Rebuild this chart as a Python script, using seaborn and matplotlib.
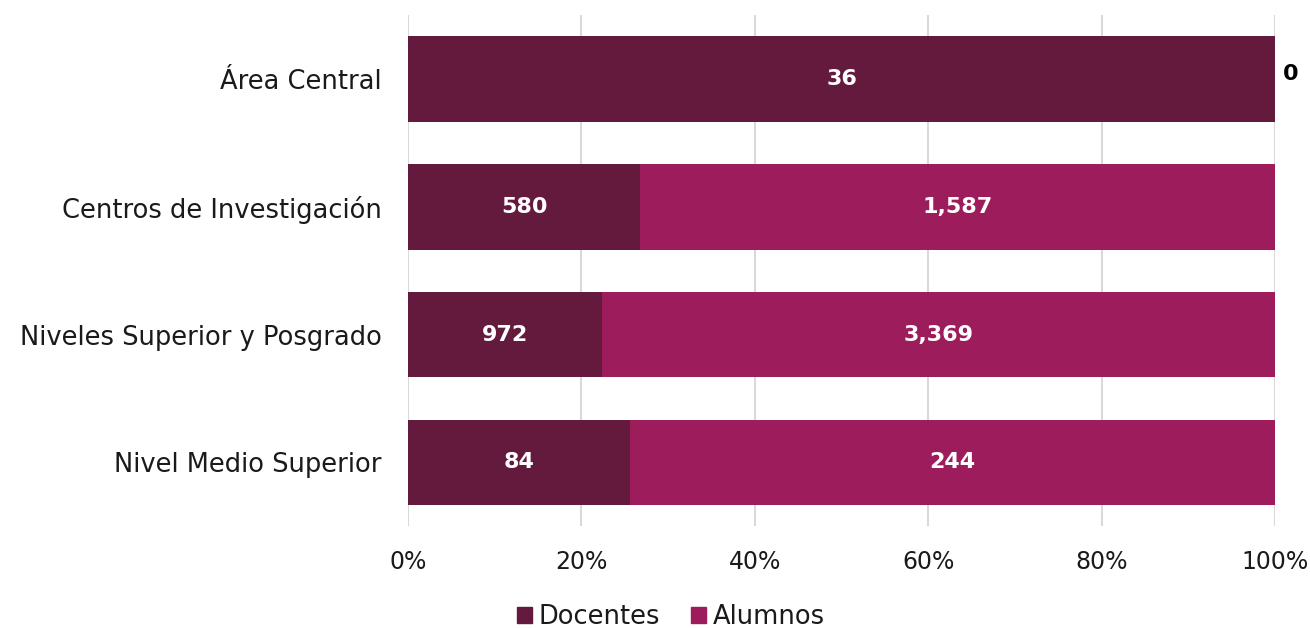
import pandas as pd
import matplotlib.pyplot as plt
import seaborn as sns
from matplotlib.patches import Patch

# Data
categorias = ["Área Central", "Centros de Investigación",
              "Niveles Superior y Posgrado", "Nivel Medio Superior"]
docentes = [36, 580, 972, 84]
alumnos = [0, 1587, 3369, 244]

color_doc = "#641a3d"
color_alu = "#9c1c5c"

df = pd.DataFrame({"categoria": categorias, "docentes": docentes, "alumnos": alumnos})
df["total"] = df["docentes"] + df["alumnos"]
df["pct_doc"] = df["docentes"] / df["total"] * 100
df["pct_tot"] = 100.0

sns.set_style("white")
plt.rcParams["font.family"] = ["DejaVu Sans"]

fig, ax = plt.subplots(figsize=(13.1, 6.28), dpi=100)
fig.subplots_adjust(left=0.3115, right=0.9733, top=0.976, bottom=0.162)

# stacked: full bar (alumnos) first, docentes on top
sns.barplot(data=df, y="categoria", x="pct_tot", color=color_alu, width=0.67,
            orient="h", ax=ax, zorder=2, saturation=1, linewidth=0)
sns.barplot(data=df, y="categoria", x="pct_doc", color=color_doc, width=0.67,
            orient="h", ax=ax, zorder=3, saturation=1, linewidth=0)

# value labels
for i, row in df.iterrows():
    ax.text(row["pct_doc"] / 2, i, f"{row['docentes']:,}", ha="center", va="center",
            color="white", fontsize=16, fontweight="bold", zorder=4)
    if row["alumnos"] > 0:
        mid = row["pct_doc"] + (100 - row["pct_doc"]) / 2
        ax.text(mid, i, f"{row['alumnos']:,}", ha="center", va="center",
                color="white", fontsize=16, fontweight="bold", zorder=4)
    else:
        ax.text(100.9, i - 0.04, "0", ha="left", va="center", color="black",
                fontsize=16, fontweight="bold", zorder=4)

ax.set_xlim(0, 100)
ax.set_ylim(3.5, -0.5)
ax.set_xticks(range(0, 101, 20))
ax.set_xticklabels([f"{v}%" for v in range(0, 101, 20)])
ax.xaxis.grid(True, color="#d9d9d9", linewidth=1.5, zorder=0)
ax.set_axisbelow(True)
ax.tick_params(axis="x", length=0, labelsize=17, pad=17, labelcolor="#1a1a1a")
ax.tick_params(axis="y", length=0, labelsize=18.5, pad=19, labelcolor="#1a1a1a")
ax.set_xlabel("")
ax.set_ylabel("")
for s in ax.spines.values():
    s.set_visible(False)

handles = [Patch(color=color_doc, label="Docentes"), Patch(color=color_alu, label="Alumnos")]
fig.legend(handles=handles, loc="lower center", ncol=2, frameon=False, fontsize=18.5,
           bbox_to_anchor=(0.512, -0.04), handlelength=0.6, handleheight=0.6,
           handletextpad=0.25, columnspacing=1.2, labelcolor="#1a1a1a")

fig.savefig("out.png", dpi=100)
